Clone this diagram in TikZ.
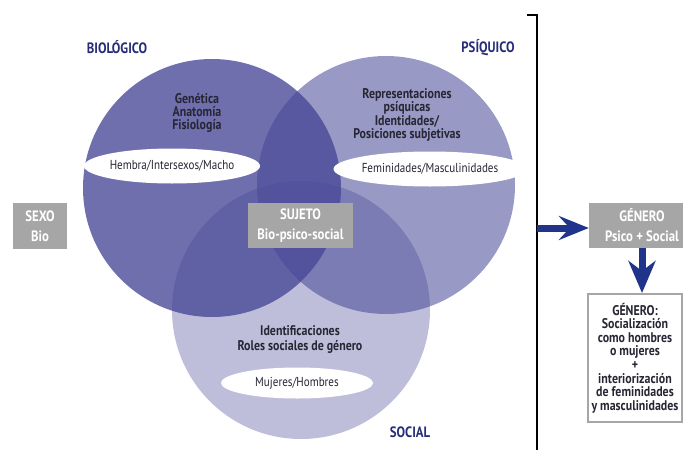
\documentclass[tikz,border=0pt]{standalone}
\usepackage{fontspec}
\setmainfont{PT Sans}[FakeStretch=0.85]
\usetikzlibrary{arrows.meta,shapes.geometric}

\definecolor{venn}{RGB}{70,70,150}
\definecolor{titulo}{RGB}{38,44,120}
\definecolor{caja}{RGB}{166,166,166}
\definecolor{flecha}{RGB}{32,52,140}
\definecolor{texto}{RGB}{38,38,52}

\tikzset{
  circulo/.style={circle, minimum size=258pt, inner sep=0pt, fill=venn},
  elipse/.style={ellipse, fill=white, inner sep=0pt, text=texto,
    font=\fontsize{13}{14}\selectfont},
  contenido/.style={align=center, text=texto,
    font=\bfseries\fontsize{14}{13.3}\selectfont},
  titulo/.style={text=titulo, font=\bfseries\fontsize{15}{15}\selectfont},
  gris/.style={fill=caja, text=white, align=center, inner sep=0pt,
    font=\bfseries\fontsize{15}{20}\selectfont},
  grueso/.style={draw=flecha, line width=7pt}
}

\begin{document}
\begin{tikzpicture}[x=1pt, y=-1pt]
  \useasboundingbox (0,0) rectangle (683,450);

  % los tres circulos
  \node[circulo, fill opacity=.78] (bio) at (212,188) {};
  \node[circulo, fill opacity=.55] (psi) at (386,185) {};
  \node[circulo, fill opacity=.35] (soc) at (301,310) {};

  % titulos
  \node[titulo] (tbio) at (117,47) {BIOLÓGICO};
  \node[titulo] (tpsi) at (488,48) {PSÍQUICO};
  \node[titulo] (tsoc) at (410,432) {SOCIAL};

  % textos de cada circulo
  \node[contenido] (cbio) at (197,113) {Genética\\Anatomía\\Fisiología};
  \node[contenido] (cpsi) at (407,115)
    {Representaciones\\psíquicas\\Identidades/\\Posiciones subjetivas};
  \node[contenido, font=\bfseries\fontsize{14}{15}\selectfont] (csoc) at (300,340)
    {Identificaciones\\Roles sociales de género};

  \node[elipse, minimum width=168pt, minimum height=35pt] (hembra) at (172,166)
    {Hembra/Intersexos/Macho};
  \node[elipse, minimum width=172pt, minimum height=35pt] (femin) at (430,169)
    {Feminidades/Masculinidades};
  \node[elipse, minimum width=152pt, minimum height=31pt] (mujeres) at (297,383)
    {Mujeres/Hombres};

  % cajas grises
  \node[gris, minimum width=54pt, minimum height=46pt] (sexo) at (40,226)
    {SEXO\\Bio};
  \node[gris, minimum width=105pt, minimum height=45pt] (sujeto) at (300.5,225.5)
    {SUJETO\\Bio-psico-social};
  \node[gris, minimum width=106pt, minimum height=45pt] (genero) at (642,225.5)
    {GÉNERO\\Psico + Social};

  \node[draw=caja, line width=2pt, minimum width=94pt, minimum height=128pt,
    align=center, inner sep=0pt, text=texto,
    font=\bfseries\fontsize{14}{13.6}\selectfont] (social) at (635,358)
    {GÉNERO:\\Socialización\\como hombres\\o mujeres\\+\\interiorización\\de feminidades\\y masculinidades};

  % linea separadora
  \coordinate (tope) at (527,15);
  \coordinate (esquina) at (537,15);
  \coordinate (pie) at (537,450);
  \coordinate (salida) at (537,228);
  \draw[titulo, line width=1.3pt] (tope) -- (esquina) -- (pie);

  % flechas
  \draw[grueso, -{Stealth[length=30pt, width=24pt, inset=11pt]}]
    (salida) -- (salida -| genero.west);
  \draw[grueso, -{Stealth[length=32pt, width=27pt, inset=10pt]}]
    (genero.south) -- (genero.south |- social.north);
\end{tikzpicture}
\end{document}
